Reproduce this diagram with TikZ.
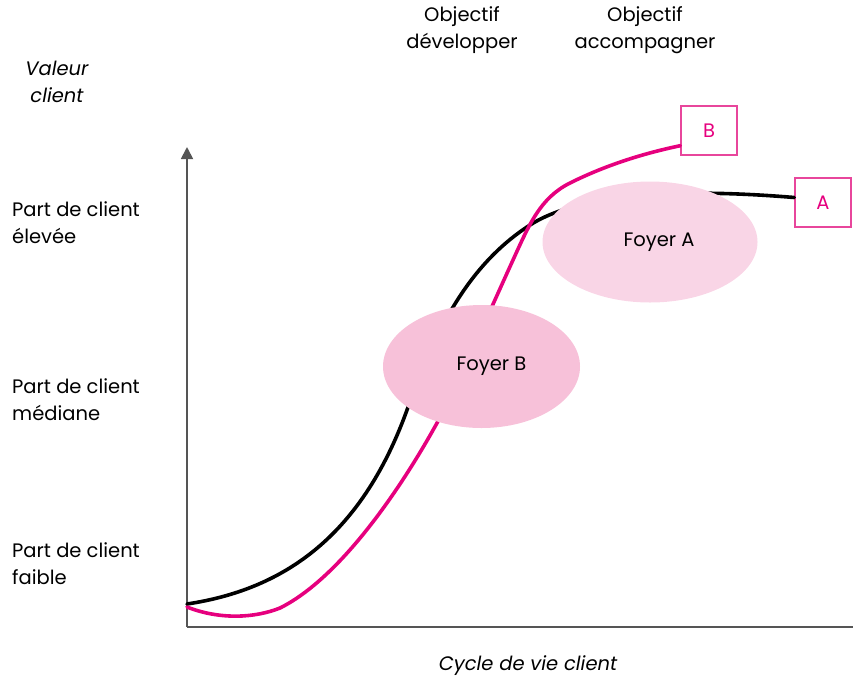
\documentclass[tikz,border=0pt]{standalone}
\usepackage{fontspec}
\setmainfont{Poppins}
\usetikzlibrary{arrows.meta,shapes.geometric}
\definecolor{magenta}{HTML}{E6007E}
\definecolor{boxline}{HTML}{E8469C}
\definecolor{foyerb}{HTML}{F7C1D9}
\definecolor{foyera}{HTML}{F9D5E6}
\definecolor{axisgray}{HTML}{555555}

\begin{document}
\begin{tikzpicture}[x=1pt,y=-1pt,
    lbl/.style={inner sep=0pt,font=\fontsize{19.5}{27}\selectfont},
    level/.style={lbl,align=left,anchor=west},
    tag/.style={draw=boxline,line width=1.4pt,minimum width=56pt,minimum height=49pt,
      text=magenta,font=\fontsize{19.5}{22}\selectfont},
    foyer/.style={ellipse,inner sep=0pt,draw=none},
    curve/.style={line width=3.6pt,line cap=round}]
  \useasboundingbox (0,0) rectangle (853,681);
  % axes
  \coordinate (o) at (187,627);
  \coordinate (ytop) at (187,147);
  \coordinate (xend) at (853,627);
  \draw[axisgray,line width=1.8pt,-{Triangle[width=12pt,length=12pt]}] (o) -- (ytop);
  \draw[axisgray,line width=1.8pt] (o) -- (xend);
  % axis texts
  \node[lbl,align=center,font=\fontsize{19.5}{27}\selectfont\itshape] (yl) at (57,82) {Valeur\\client};
  \node[lbl,align=center,font=\fontsize{19.5}{27}\selectfont\itshape] (xl) at (528,666) {Cycle de vie client};
  \node[level] (hi) at (12,223) {Part de client\\élevée};
  \node[level] (mid) at (12,400) {Part de client\\médiane};
  \node[level] (lo) at (12,564) {Part de client\\faible};
  \node[lbl,align=center] (odev) at (462,30) {Objectif\\développer};
  \node[lbl,align=center] (oacc) at (645,30) {Objectif\\accompagner};
  % end boxes
  \node[tag] (bb) at (709,130.5) {B};
  \node[tag] (ba) at (823,202.5) {A};
  \coordinate (bend) at ([yshift=10pt]bb.south west);
  \coordinate (aend) at ([yshift=5pt]ba.west);
  % curve A (black)
  \draw[curve,black] (187,604) .. controls (280,590) and (360,540) .. (407,410)
    .. controls (430,347) and (460,270) .. (530,225)
    .. controls (580,193) and (680,188) .. (aend);
  % curve B (magenta)
  \draw[curve,magenta] (187,607) .. controls (220,620) and (255,618) .. (280,608)
    .. controls (340,578) and (400,490) .. (437,423)
    .. controls (455,390) and (497,295) .. (513,260)
    .. controls (529,225) and (540,198) .. (570,183)
    .. controls (610,163) and (650,152) .. (bend);
  % foyers
  \node[foyer,fill=foyerb,minimum width=197pt,minimum height=123pt] (fb) at (481.5,366.5) {};
  \node[lbl] at ([xshift=10pt]fb.center) {Foyer B};
  \node[foyer,fill=foyera,minimum width=215pt,minimum height=121pt] (fa) at (650,242) {};
  \node[lbl] at ([xshift=9pt]fa.center) {Foyer A};
\end{tikzpicture}
\end{document}
